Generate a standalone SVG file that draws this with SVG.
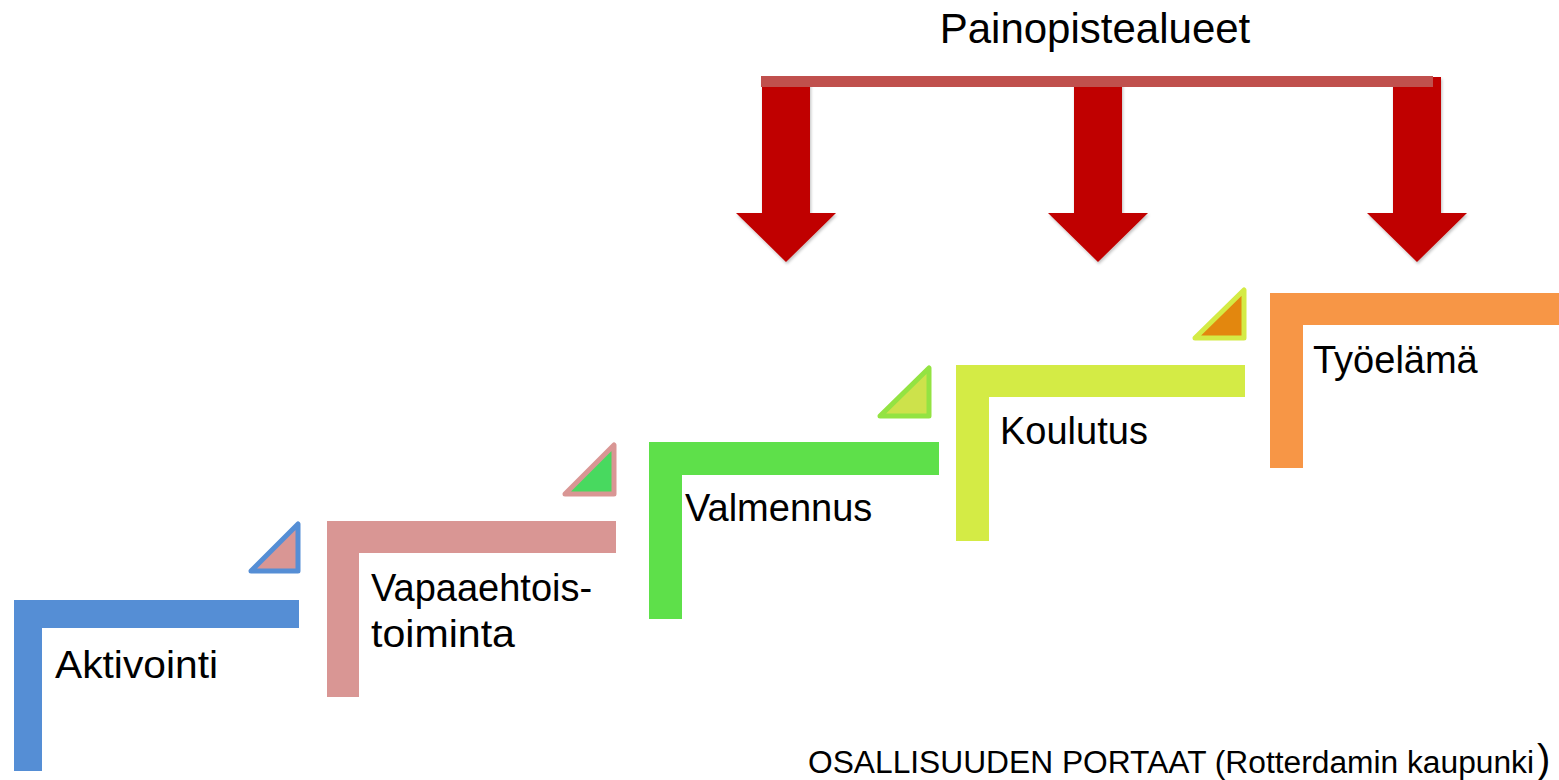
<svg xmlns="http://www.w3.org/2000/svg" width="1559" height="780" viewBox="0 0 1559 780">
<defs>
<style>
text{font-family:"Liberation Sans",Arial,sans-serif;fill:#000}
.lbl{font-size:38px}
.tri{stroke-width:5;stroke-linejoin:round}
.arrow{fill:#C00000;filter:url(#sh)}
</style>
<filter id="sh" x="-20%" y="-10%" width="140%" height="130%">
<feGaussianBlur in="SourceAlpha" stdDeviation="1.5"/>
<feOffset dx="1" dy="2" result="b"/>
<feFlood flood-color="#000" flood-opacity="0.25"/>
<feComposite in2="b" operator="in"/>
<feMerge><feMergeNode/><feMergeNode in="SourceGraphic"/></feMerge>
</filter>
</defs>
<rect width="1559" height="780" fill="#fff"/>

<text x="1095" y="43" font-size="42" text-anchor="middle">Painopistealueet</text>

<g id="connectors">
<path class="arrow" d="M762,78 H810 V213 H836 L786,262 L736,213 H762 Z"/>
<path class="arrow" d="M1074,78 H1122 V213 H1148 L1098,262 L1048,213 H1074 Z"/>
<path class="arrow" d="M1393,77 H1441 V213 H1467 L1417,262 L1367,213 H1393 Z"/>
<rect x="761" y="76" width="672" height="11" fill="#C0504D"/>
</g>

<g id="aktivointi">
<path d="M14,600 H299 V628 H42 V771 H14 Z" fill="#558ED5"/>
<text class="lbl" x="55" y="678" textLength="163" lengthAdjust="spacingAndGlyphs">Aktivointi</text>
</g>
<polygon class="tri" points="251,571 298,524 298,571" fill="#D99694" stroke="#558ED5"/>

<g id="vapaaehtoistoiminta">
<path d="M327,521 H616 V553 H359 V697 H327 Z" fill="#D99694"/>
<text class="lbl" x="371" y="601">Vapaaehtois-</text>
<text class="lbl" x="371" y="647" textLength="144" lengthAdjust="spacingAndGlyphs">toiminta</text>
</g>
<polygon class="tri" points="565,494 614,445 614,494" fill="#48D95F" stroke="#D99694"/>

<g id="valmennus">
<path d="M649,442 H939 V475 H682 V619 H649 Z" fill="#5EE04A"/>
<text class="lbl" x="685" y="521">Valmennus</text>
</g>
<polygon class="tri" points="880,416 929,368 929,416" fill="#CDE24B" stroke="#93E342"/>

<g id="koulutus">
<path d="M956,365 H1245 V397 H989 V541 H956 Z" fill="#D4EB45"/>
<text class="lbl" x="1000" y="444">Koulutus</text>
</g>
<polygon class="tri" points="1195,338 1244,290 1244,338" fill="#E3870E" stroke="#D4EB45"/>

<g id="tyoelama">
<path d="M1270,293 H1559 V325 H1303 V468 H1270 Z" fill="#F79646"/>
<text class="lbl" x="1313" y="373">Työelämä</text>
</g>

<text x="808" y="773" font-size="31" textLength="726" lengthAdjust="spacingAndGlyphs">OSALLISUUDEN PORTAAT (Rotterdamin kaupunki</text>
<text x="1537" y="773" font-size="40">)</text>
</svg>
